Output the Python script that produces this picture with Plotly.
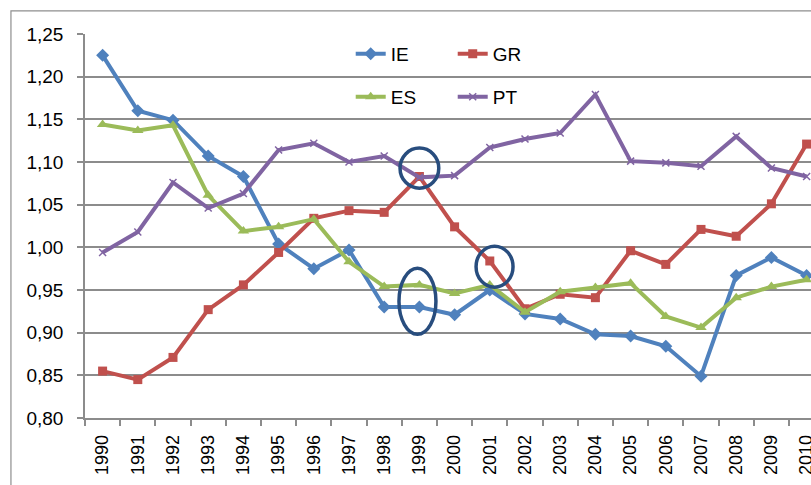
import plotly.graph_objects as go

years = list(range(1990, 2011))

ie = [1.225, 1.160, 1.149, 1.107, 1.083, 1.004, 0.975, 0.997, 0.930, 0.930, 0.921,
      0.950, 0.922, 0.916, 0.898, 0.896, 0.884, 0.849, 0.967, 0.988, 0.967]
gr = [0.855, 0.845, 0.871, 0.927, 0.956, 0.994, 1.034, 1.043, 1.041, 1.083, 1.024,
      0.984, 0.928, 0.945, 0.941, 0.996, 0.980, 1.021, 1.013, 1.051, 1.121]
es = [1.144, 1.137, 1.143, 1.061, 1.019, 1.024, 1.033, 0.983, 0.954, 0.956, 0.946,
      0.956, 0.924, 0.948, 0.953, 0.958, 0.919, 0.906, 0.941, 0.954, 0.962]
pt = [0.994, 1.018, 1.076, 1.046, 1.063, 1.114, 1.122, 1.100, 1.107, 1.082, 1.084,
      1.117, 1.127, 1.134, 1.179, 1.101, 1.099, 1.095, 1.130, 1.093, 1.083]

y_ticks = [0.80, 0.85, 0.90, 0.95, 1.00, 1.05, 1.10, 1.15, 1.20, 1.25]

# highlight ellipses: (x0, x1, y0, y1) in year / value units
highlights = [
    (1998.45, 1999.55, 1.0693, 1.1163),
    (2000.61, 2001.66, 0.9533, 1.0014),
    (1998.42, 1999.47, 0.8981, 0.9756),
]

FONT = "Liberation Sans, Arial, sans-serif"
GRID = "#8c8c8c"

series = [
    ("IE", ie, "#4F81BD", dict(symbol="diamond", size=10), "legend"),
    ("GR", gr, "#C0504D", dict(symbol="square", size=9), "legend"),
    ("ES", es, "#9BBB59", dict(symbol="triangle-up", size=10), "legend2"),
    ("PT", pt, "#8064A2", dict(symbol="x-thin", size=7, line=dict(width=1.5, color="#8064A2")), "legend2"),
]

fig = go.Figure()
for name, vals, col, mk, lg in series:
    fig.add_trace(go.Scatter(
        x=years, y=vals, name=name, mode="lines+markers",
        line=dict(color=col, width=4),
        marker=dict(color=col, **mk),
        legend=lg,
    ))

shapes = []
for x0, x1, y0, y1 in highlights:
    shapes.append(dict(type="circle", xref="x", yref="y", x0=x0, x1=x1, y0=y0, y1=y1,
                       line=dict(color="#284D7E", width=3.5), layer="above"))
# outer chart border
shapes.append(dict(type="rect", xref="paper", yref="paper", x0=-0.102, x1=1.2, y0=-0.5, y1=1.06,
                   line=dict(color="#8e8e8e", width=1.2), layer="below"))

fig.update_layout(
    width=811, height=485,
    margin=dict(l=85, r=0, t=34, b=67, pad=0, autoexpand=False),
    paper_bgcolor="white", plot_bgcolor="white",
    separators=", ",
    font=dict(family=FONT, size=19, color="#000000"),
    shapes=shapes,
    legend=dict(orientation="h", x=0.366, xanchor="left", y=0.948, yanchor="middle",
                bgcolor="rgba(0,0,0,0)", entrywidth=57, font=dict(size=19)),
    legend2=dict(orientation="h", x=0.366, xanchor="left", y=0.836, yanchor="middle",
                 bgcolor="rgba(0,0,0,0)", entrywidth=57, font=dict(size=19)),
    showlegend=True,
)

fig.update_xaxes(
    type="linear", range=[1989.5, 2010.125], automargin=False,
    tickvals=years, ticktext=[str(y) for y in years],
    tickangle=-90, ticks="", showgrid=False,
    showline=True, linecolor=GRID, linewidth=1.5,
    tickfont=dict(size=18, family=FONT),
    ticklabelstandoff=8, ticklabeloverflow="allow",
    minor=dict(tick0=1989.5, dtick=1, ticks="outside", ticklen=6, tickcolor=GRID,
               tickwidth=1.5, showgrid=False),
    zeroline=False,
)
fig.update_yaxes(
    range=[0.80, 1.25], tickvals=y_ticks, tickformat=".2f", automargin=False,
    ticks="outside", ticklen=6, tickcolor=GRID, tickwidth=1.5,
    showgrid=True, gridcolor=GRID, gridwidth=1.5,
    showline=True, linecolor=GRID, linewidth=1.5,
    tickfont=dict(size=19, family=FONT),
    ticklabelstandoff=10,
    zeroline=False,
)

fig.write_html(
    "out.html",
    config={"displayModeBar": False},
    post_script="document.body.style.margin='0px';document.body.style.overflow='hidden';",
)
